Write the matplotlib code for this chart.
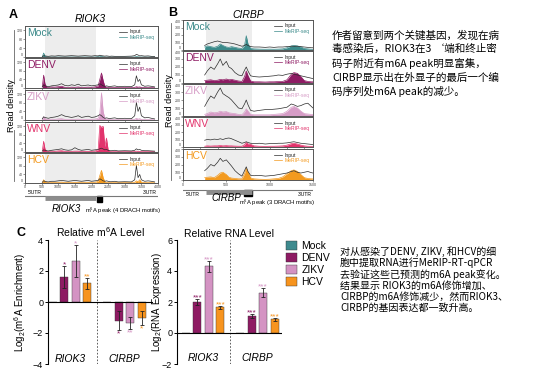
import matplotlib
matplotlib.use('Agg')
import matplotlib.pyplot as plt
from matplotlib.lines import Line2D
from matplotlib.patches import Patch, Rectangle

plt.rcParams['font.family'] = ['Liberation Sans', 'DejaVu Sans']
plt.rcParams['mathtext.fontset'] = 'custom'
plt.rcParams['mathtext.rm'] = 'Liberation Sans'
plt.rcParams['mathtext.it'] = 'Liberation Sans:italic'

W, H = 534, 379
fig = plt.figure(figsize=(W / 100, H / 100), dpi=100)
fig.patch.set_facecolor('white')


def ax_px(l, t, r, b):
    return fig.add_axes([l / W, 1 - b / H, (r - l) / W, (b - t) / H])


def ftext(x, y, s, **kw):
    fig.text(x / W, 1 - y / H, s, **kw)


# ---------------- data ----------------
virus_names = ['Mock', 'DENV', 'ZIKV', 'WNV', 'HCV']
track_colors = ['#3b8a8a', '#8e1b63', '#d69cc6', '#e2336c', '#f39a1f']

# RIOK3 tracks (position in nt)
riok3_x = [520, 560, 600, 650, 700, 800, 900, 1000, 1100, 1200, 1300, 1400, 1500, 1600,
           1700, 1800, 1900, 2000, 2100, 2200, 2250, 2300, 2350, 2400, 2450, 2500, 2550,
           2600, 2700, 2800, 3000, 3200, 3300, 3350, 3400, 3450, 3500, 3600, 3700, 3800, 3900]
riok3_input = [
    [2, 6, 5, 4, 3, 5, 4, 6, 5, 4, 5, 6, 5, 4, 5, 6, 5, 4, 6, 5, 8, 6, 5, 4, 5, 4, 3, 4, 3, 3, 3, 4, 6, 12, 9, 5, 6, 4, 5, 3, 2],
    [5, 15, 10, 8, 6, 10, 12, 14, 20, 12, 10, 15, 12, 18, 10, 12, 14, 10, 12, 15, 20, 15, 10, 8, 10, 8, 6, 8, 10, 6, 8, 6, 15, 57, 30, 40, 15, 8, 10, 8, 5],
    [5, 15, 12, 10, 8, 12, 14, 18, 25, 18, 15, 12, 15, 20, 12, 15, 18, 12, 14, 20, 25, 20, 12, 8, 10, 8, 6, 8, 10, 6, 8, 6, 20, 82, 40, 60, 20, 10, 12, 8, 5],
    [4, 10, 8, 6, 5, 8, 10, 12, 15, 10, 8, 10, 20, 12, 8, 10, 12, 8, 10, 12, 15, 18, 14, 10, 12, 8, 6, 6, 8, 5, 6, 5, 8, 15, 10, 12, 8, 6, 6, 5, 4],
    [3, 10, 8, 6, 5, 8, 8, 10, 12, 10, 8, 10, 12, 10, 8, 10, 12, 8, 10, 12, 20, 15, 10, 8, 10, 8, 6, 6, 8, 5, 6, 5, 15, 82, 25, 40, 15, 8, 10, 8, 5],
]
riok3_merip = [
    [0, 18, 4, 1, 0, 0, 0, 0, 0, 0, 0, 0, 0, 0, 0, 0, 0, 0, 0, 2, 5, 3, 1, 0, 0, 0, 0, 0, 0, 0, 0, 0, 0, 2, 1, 0, 0, 0, 0, 0, 0],
    [5, 60, 20, 4, 2, 5, 4, 6, 8, 3, 2, 4, 3, 5, 2, 3, 4, 3, 5, 10, 40, 70, 35, 8, 4, 3, 2, 2, 3, 2, 2, 2, 3, 6, 4, 5, 3, 2, 2, 2, 1],
    [2, 15, 8, 3, 2, 4, 3, 5, 6, 3, 2, 3, 3, 4, 2, 3, 3, 3, 4, 8, 30, 127, 40, 8, 4, 3, 2, 2, 2, 2, 2, 2, 3, 8, 4, 6, 3, 2, 2, 2, 1],
    [5, 50, 15, 3, 2, 4, 3, 5, 6, 3, 2, 3, 4, 4, 2, 3, 3, 3, 4, 10, 124, 115, 120, 25, 65, 10, 3, 2, 2, 2, 2, 2, 2, 4, 3, 3, 2, 2, 2, 2, 1],
    [2, 15, 6, 2, 1, 3, 2, 3, 4, 2, 2, 2, 3, 3, 2, 2, 3, 2, 3, 8, 35, 59, 25, 6, 3, 2, 2, 2, 2, 2, 2, 2, 3, 10, 5, 15, 4, 2, 2, 2, 1],
]

# CIRBP tracks
cirbp_x = [250, 280, 320, 360, 400, 430, 460, 500, 530, 560, 600, 640, 680, 710, 730, 750, 780,
           820, 880, 950, 1000, 1050, 1100, 1150, 1200, 1250, 1280, 1320, 1360, 1400, 1440, 1480, 1500]
cirbp_input = [
    [60, 80, 95, 110, 120, 110, 100, 100, 95, 90, 80, 65, 50, 60, 75, 60, 45, 40, 40, 35, 40, 35, 40, 40, 45, 50, 50, 50, 45, 40, 35, 30, 30],
    [100, 150, 200, 170, 240, 300, 220, 270, 200, 180, 130, 100, 90, 160, 200, 150, 90, 80, 75, 80, 85, 90, 100, 95, 110, 120, 110, 100, 90, 80, 70, 60, 55],
    [120, 180, 250, 220, 300, 350, 280, 250, 230, 200, 150, 100, 90, 150, 200, 140, 70, 60, 70, 80, 80, 85, 90, 100, 110, 150, 140, 120, 130, 150, 160, 120, 100],
    [90, 100, 95, 105, 100, 110, 100, 115, 120, 110, 90, 70, 50, 60, 70, 60, 50, 45, 50, 40, 45, 45, 50, 50, 55, 65, 70, 60, 50, 45, 40, 35, 30],
    [120, 150, 200, 180, 230, 280, 240, 260, 220, 180, 120, 80, 50, 120, 170, 110, 60, 55, 60, 50, 55, 60, 70, 80, 90, 110, 120, 100, 90, 100, 110, 95, 90],
]
cirbp_merip = [
    [40, 55, 45, 35, 50, 80, 60, 40, 35, 45, 35, 25, 20, 60, 190, 80, 20, 15, 12, 10, 12, 10, 12, 15, 30, 55, 60, 55, 40, 20, 15, 10, 10],
    [30, 35, 40, 30, 35, 45, 40, 50, 40, 45, 35, 25, 20, 80, 150, 90, 25, 15, 15, 12, 15, 15, 18, 20, 40, 110, 130, 120, 80, 30, 20, 15, 15],
    [20, 30, 50, 40, 45, 60, 50, 55, 40, 35, 30, 20, 15, 50, 90, 60, 20, 15, 15, 15, 15, 20, 25, 30, 60, 110, 120, 100, 60, 30, 25, 20, 20],
    [10, 15, 12, 15, 15, 20, 15, 18, 15, 15, 12, 10, 10, 30, 60, 40, 35, 15, 10, 8, 10, 10, 12, 15, 25, 45, 50, 40, 25, 15, 10, 8, 8],
    [30, 35, 40, 30, 60, 90, 100, 70, 35, 25, 20, 15, 15, 80, 150, 100, 25, 15, 10, 8, 10, 15, 20, 40, 80, 120, 130, 110, 70, 30, 20, 15, 15],
]

# gene models: length, CDS, m6A peak
riok3_len, riok3_cds, riok3_peak = 4000, (600, 2150), (2180, 2330)
cirbp_len, cirbp_cds, cirbp_peak = 1500, (265, 800), (705, 795)

# panel C
genes = ['RIOK3', 'CIRBP']
bar_series = ['Mock', 'DENV', 'ZIKV', 'HCV']
bar_colors = ['#3e8a8e', '#8e1b63', '#d493c3', '#f7941e']
m6a_mean = [[0, 0], [1.6, -1.2], [2.65, -1.35], [1.2, -1.05]]
m6a_err = [[0, 0], [0.7, 0.6], [1.05, 0.4], [0.35, 0.45]]
m6a_stars = [['', ''], ['*', '*'], ['*', '**'], ['**', '*']]
rna_mean = [[0, 0], [2.0, 1.1], [4.3, 2.6], [1.67, 0.88]]
rna_err = [[0, 0], [0.17, 0.1], [0.35, 0.3], [0.1, 0.1]]
rna_stars = [['', ''], ['***', '***'], ['***', '***'], ['***', '***']]


# ---------------- panels A / B ----------------
def draw_tracks(left, right, tops, bottoms, xs, inputs, merips, length, ymax, yticks, cds):
    axes = []
    for i, name in enumerate(virus_names):
        ax = ax_px(left, tops[i], right, bottoms[i])
        ax.axvspan(cds[0], cds[1], color='#ededed', lw=0, zorder=0)
        ax.fill_between(xs, merips[i], color=track_colors[i], lw=0, zorder=2)
        ax.plot(xs, inputs[i], color='#2b2b2b', lw=0.5, zorder=3, label='Input')
        ax.plot(xs, merips[i], color=track_colors[i], lw=0.5, zorder=2, label='MeRIP-seq')
        ax.set_xlim(0, length)
        ax.set_ylim(0, ymax)
        ax.set_yticks(yticks)
        ax.tick_params(labelsize=2.6, length=1.2, width=0.4, pad=0.6, colors='#444')
        # keep end labels inside the track so neighbours don't collide
        labels = ax.get_yticklabels()
        labels[0].set_va('bottom')
        if yticks[-1] >= ymax:
            labels[-1].set_va('top')
        if i < len(virus_names) - 1:
            ax.set_xticklabels([])
        for s in ax.spines.values():
            s.set_color('#555555')
            s.set_linewidth(0.7)
        ax.text(0.015, 0.93, name, transform=ax.transAxes, color=track_colors[i],
                fontsize=7.5, va='top', ha='left')
        ax.legend(loc='upper right', fontsize=3.6, frameon=False, handlelength=1.6,
                  handletextpad=0.4, labelspacing=0.1, borderpad=0.2,
                  labelcolor=['#222222', track_colors[i]])
        axes.append(ax)
    return axes


a_axes = draw_tracks(25, 158, [26, 58, 90, 122, 153], [57, 88, 120, 152, 183],
                     riok3_x, riok3_input, riok3_merip, riok3_len, 140, [0, 40, 80, 120], riok3_cds)
a_axes[-1].set_xticks(range(0, riok3_len + 1, 500))

b_axes = draw_tracks(183, 313, [20, 51, 84, 117, 149], [50, 83, 116, 147, 180],
                     cirbp_x, cirbp_input, cirbp_merip, cirbp_len, 400, [0, 100, 200, 300, 400], cirbp_cds)
b_axes[-1].set_xticks(range(0, cirbp_len + 1, 500))


def draw_gene(left, right, top, bottom, length, cds, peak, line_y, gene, gene_xy, peak_label,
              peak_xy, utr_below=False):
    ax = ax_px(left, top, right, bottom)
    ax.set_xlim(0, length)
    ax.set_ylim(bottom, top)
    ax.axis('off')
    ax.plot([0, length], [line_y, line_y], color='#777777', lw=0.8)
    ax.plot([cds[0], cds[1]], [line_y + 1.5, line_y + 1.5], color='#8c8c8c', lw=3.5,
            solid_capstyle='butt')
    ax.add_patch(Rectangle((peak[0], line_y), peak[1] - peak[0], 6, color='black'))
    if utr_below:
        uy, uva = line_y + 1.5, 'top'
    else:
        uy, uva = line_y - 1.5, 'bottom'
    ax.text(0.02 * length, uy, "5'UTR", fontsize=3.6, ha='left', va=uva)
    ax.text(0.99 * length, uy, "3'UTR", fontsize=3.6, ha='right', va=uva)
    ftext(gene_xy[0], gene_xy[1], gene, fontsize=7, style='italic', ha='center', va='center')
    ftext(peak_xy[0], peak_xy[1], peak_label, fontsize=4.2, ha='center', va='center')


draw_gene(25, 158, 188, 216, riok3_len, riok3_cds, riok3_peak, 196, 'RIOK3', (66, 209),
          'm$^6$A peak (4 DRACH motifs)', (123, 211))
draw_gene(183, 313, 183, 206, cirbp_len, cirbp_cds, cirbp_peak, 190, 'CIRBP', (226, 198),
          'm$^6$A peak (3 DRACH motifs)', (277, 203), utr_below=True)

# titles, letters, y-labels for A/B
ftext(13, 15, 'A', fontsize=9, fontweight='bold', va='center', ha='center')
ftext(173, 13, 'B', fontsize=9, fontweight='bold', va='center', ha='center')
ftext(90, 19, 'RIOK3', fontsize=7.5, style='italic', ha='center', va='center')
ftext(248, 15, 'CIRBP', fontsize=7.5, style='italic', ha='center', va='center')
for x, y0, y1, yc in [(12, 30, 181, 106), (169, 23, 180, 101)]:
    ftext(x, yc, 'Read density', fontsize=6.5, rotation=90, ha='center', va='center')
    fig.add_artist(Line2D([x / W + 0.004] * 2, [1 - y0 / H, 1 - (yc - 24) / H],
                          transform=fig.transFigure, color='#666666', lw=0.6))
    fig.add_artist(Line2D([x / W + 0.004] * 2, [1 - (yc + 24) / H, 1 - y1 / H],
                          transform=fig.transFigure, color='#666666', lw=0.6))


# ---------------- panel C ----------------
def draw_bars(ax, means, errs, stars, xlim, ylim, yticks, title, ylabel, label_y, star_pad, lab_x):
    w = 0.21
    for j, s in enumerate(bar_series):
        xs = [g + (j - 1.5) * w for g in range(len(genes))]
        ax.bar(xs, means[j], width=0.15, color=bar_colors[j], edgecolor='#333333', linewidth=0.3,
               yerr=errs[j], error_kw=dict(elinewidth=0.6, capsize=1.6, capthick=0.6, ecolor='#222222'),
               zorder=2)
        for k, x in enumerate(xs):
            if not stars[j][k]:
                continue
            m, e = means[j][k], errs[j][k]
            if m >= 0:
                ax.text(x, m + e + star_pad * 0.3, stars[j][k], color=bar_colors[j], fontsize=6,
                        ha='center', va='center')
            else:
                ax.text(x, m - e - star_pad, stars[j][k], color=bar_colors[j], fontsize=6,
                        ha='center', va='center')
    ax.axhline(0, color='black', lw=0.8, zorder=3)
    ax.axvline(0.5, color='#444444', lw=0.6, ls=(0, (2, 2)))
    ax.set_xlim(*xlim)
    ax.set_ylim(*ylim)
    ax.set_yticks(yticks)
    ax.set_xticks([])
    for side in ['top', 'right', 'bottom']:
        ax.spines[side].set_visible(False)
    ax.spines['left'].set_linewidth(0.8)
    ax.tick_params(axis='y', labelsize=6.5, length=2.5, width=0.7, pad=1)
    ax.set_title(title, fontsize=7.5, pad=2)
    ax.set_ylabel(ylabel, fontsize=7, labelpad=1)
    ax.yaxis.set_label_coords(lab_x, 0.5)
    for g, gene in enumerate(genes):
        ax.text(g, label_y, gene, fontsize=7.5, style='italic', ha='center', va='center')


ax_m = ax_px(48, 240, 153, 364)
draw_bars(ax_m, m6a_mean, m6a_err, m6a_stars, (-0.40, 1.52), (-4, 4), [-4, -2, 0, 2, 4],
          'Relative m$^6$A Level', 'Log$_2$(m$^6$A Enrichment)', -3.65, 0.25, -0.19)
ax_r = ax_px(177, 240, 282, 364)
draw_bars(ax_r, rna_mean, rna_err, rna_stars, (-0.48, 1.45), (-2, 6), [-2, 0, 2, 4, 6],
          'Relative RNA Level', 'Log$_2$(RNA Expression)', -1.6, 0.25, -0.12)

ftext(21, 233, 'C', fontsize=9, fontweight='bold', va='center', ha='center')

handles = [Patch(facecolor=c, edgecolor='#333333', linewidth=0.3) for c in bar_colors]
fig.legend(handles, bar_series, loc='upper left', bbox_to_anchor=(286 / W, 1 - 241 / H),
           fontsize=7.5, frameon=False, handlelength=1.1, handleheight=0.9,
           labelspacing=0.2, handletextpad=0.4, borderaxespad=0, borderpad=0)

# ---------------- commentary text ----------------
cjk = ['Noto Sans CJK SC', 'DejaVu Sans']
note1 = ('作者留意到两个关键基因，发现在病\n'
         '毒感染后，RIOK3在3 ‘端和终止密\n'
         '码子附近有m6A peak明显富集，\n'
         'CIRBP显示出在外显子的最后一个编\n'
         '码序列处m6A peak的减少。')
note2 = ('对从感染了DENV, ZIKV, 和HCV的细\n'
         '胞中提取RNA进行MeRIP-RT-qPCR\n'
         '去验证这些已预测的m6A peak变化。\n'
         '结果显示 RIOK3的m6A修饰增加、\n'
         'CIRBP的m6A修饰减少，然而RIOK3、\n'
         'CIRBP的基因表达都一致升高。')
ftext(332, 30, note1, family=cjk, fontsize=7.6, va='top', ha='left', linespacing=1.42)
ftext(340, 246, note2, family=cjk, fontsize=7.2, va='top', ha='left', linespacing=1.12)

fig.savefig('out.png', dpi=100, facecolor='white')
